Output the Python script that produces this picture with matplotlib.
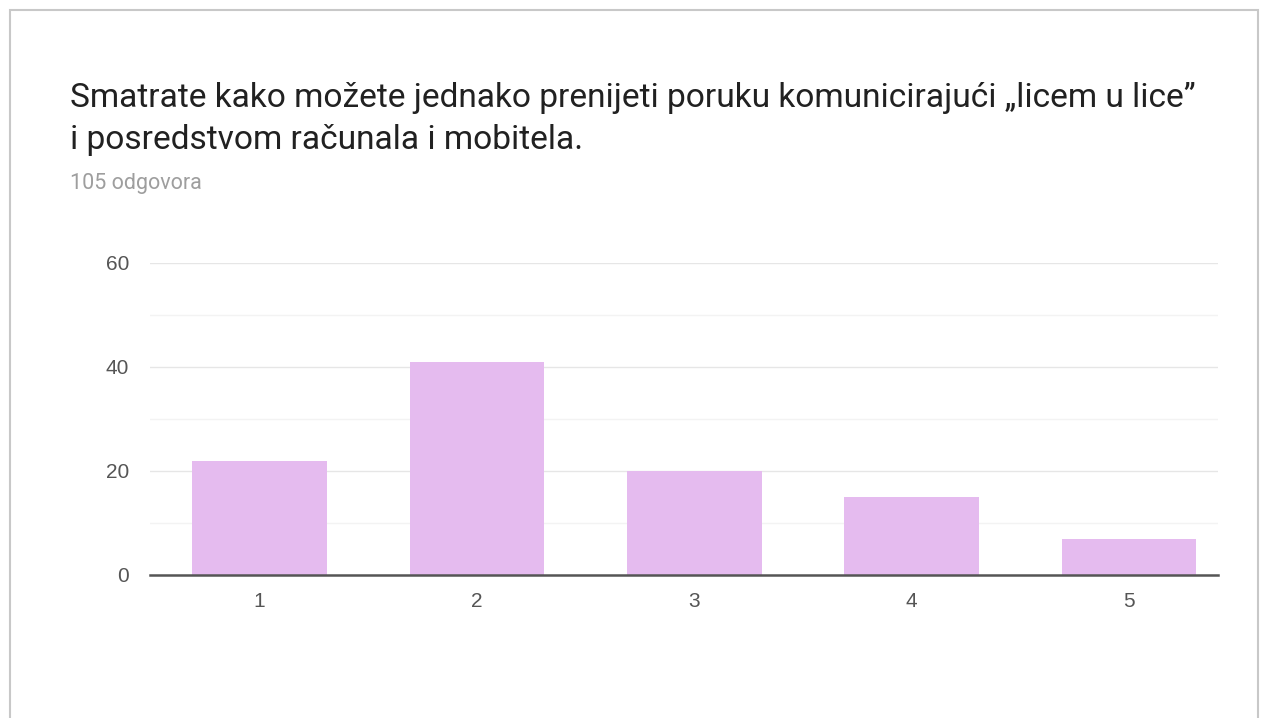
import matplotlib.pyplot as plt
from matplotlib.patches import Rectangle
from matplotlib.ticker import MultipleLocator

plt.rcParams['font.family'] = ['Roboto', 'DejaVu Sans']

# answers on the 1-5 scale and number of responses
categories = ["1", "2", "3", "4", "5"]
counts = [22, 41, 20, 15, 7]

title = "Smatrate kako možete jednako prenijeti poruku komunicirajući „licem u lice”\ni posredstvom računala i mobitela."
subtitle = "105 odgovora"

fig = plt.figure(figsize=(12.62, 7.18), dpi=100)
fig.patch.set_facecolor("white")

# card outline
card = Rectangle((10 / 1262, -0.01), 1248 / 1262, 1 - 10 / 718 + 0.01,
                 transform=fig.transFigure, facecolor="white",
                 edgecolor="#c8c8c8", linewidth=1.5, zorder=0)
fig.patches.append(card)

fig.text(70 / 1262, 1 - 119 / 718, title, fontsize=24.1, color="#212121",
         va="center", ha="left", linespacing=1.38)
fig.text(70 / 1262, 1 - 183 / 718, subtitle, fontsize=15.5, color="#9e9e9e",
         va="center", ha="left")

ax = fig.add_axes([150 / 1262, 1 - 575 / 718, 1068 / 1262, 312 / 718])
ax.set_zorder(2)
ax.patch.set_visible(False)
x = range(len(categories))
ax.bar(x, counts, width=0.62, color="#e5bbef", zorder=2)

ax.set_xlim(-0.504, 4.41)
ax.set_ylim(0, 60)
ax.set_xticks(list(x))
ax.set_xticklabels(categories)
ax.yaxis.set_major_locator(MultipleLocator(20))
ax.yaxis.set_minor_locator(MultipleLocator(10))
ax.grid(axis="y", which="major", color="#e6e6e6", linewidth=1, zorder=0)
ax.grid(axis="y", which="minor", color="#f3f3f3", linewidth=1, zorder=0)
ax.tick_params(axis="both", which="both", length=0, labelsize=15, labelcolor="#555555")
for lab in ax.get_xticklabels() + ax.get_yticklabels():
    lab.set_family(["Liberation Sans", "DejaVu Sans"])
ax.tick_params(axis="y", pad=15)
ax.tick_params(axis="x", pad=12)
for s in ["top", "right", "left"]:
    ax.spines[s].set_visible(False)
ax.spines["bottom"].set_color("#555555")
ax.spines["bottom"].set_linewidth(1.8)
ax.spines["bottom"].set_zorder(3)

fig.savefig("out.png", dpi=100)
